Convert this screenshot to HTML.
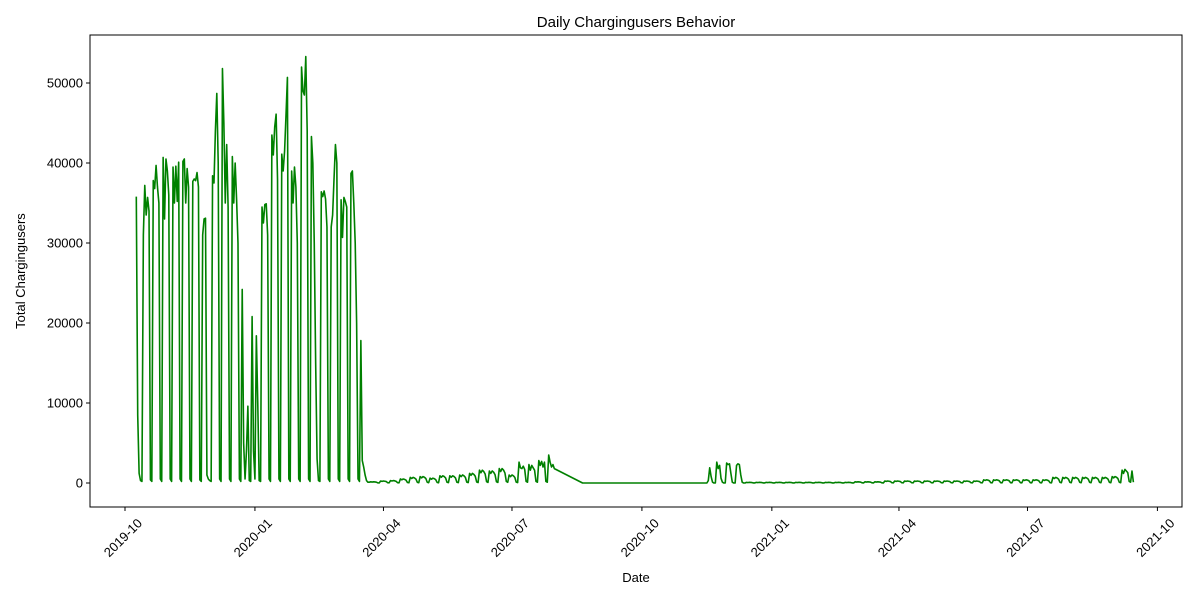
<!DOCTYPE html>
<html><head><meta charset="utf-8"><style>
body{margin:0;background:#fff}
svg text{font-family:"Liberation Sans","DejaVu Sans",sans-serif;fill:#000}
</style></head><body>
<svg width="1200" height="600" viewBox="0 0 1200 600">
<rect width="1200" height="600" fill="#fff"/>
<text x="636" y="27" font-size="15" text-anchor="middle">Daily Chargingusers Behavior</text>
<g id="yticks"></g><g id="xticks"></g>
<path id="line" fill="none" stroke="#008000" stroke-width="1.6" stroke-linejoin="round"/>
<rect x="90" y="35" width="1092" height="472" fill="none" stroke="#000" stroke-width="1"/>
<text x="636" y="582" font-size="13" text-anchor="middle">Date</text>
<text x="25" y="271" font-size="13" text-anchor="middle" transform="rotate(-90 25 271)">Total Chargingusers</text>
</svg>
<script>
const startDate = "2019-10-07";
const yTicks = [0,10000,20000,30000,40000,50000];
const xTickLabels = ["2019-10","2020-01","2020-04","2020-07","2020-10","2021-01","2021-04","2021-07","2021-10"];
const weeks = [
[null,null,35800,8500,1200,300,200],
[31000,37200,33500,35700,34000,400,200],
[37800,36800,39700,37000,35000,500,200],
[40700,33000,40500,39000,36000,500,200],
[39500,35000,39600,35200,40100,500,200],
[40200,40500,35000,39300,37000,500,200],
[37700,38000,37800,38800,37000,400,200],
[31000,33000,33100,1000,500,300,200],
[38400,37500,44000,48700,40000,500,200],
[51800,45000,35000,42300,34500,500,200],
[40800,35000,40000,35500,30000,500,200],
[24200,5000,500,4000,9600,300,200],
[20800,4000,500,18400,10000,300,200],
[34500,32500,34800,34900,31000,500,200],
[43500,41000,44500,46100,38000,500,200],
[41100,39000,41500,46000,50700,500,200],
[39000,35000,39500,37000,30000,500,200],
[52000,49000,48500,53300,44000,500,200],
[43300,40000,30000,15000,3000,300,200],
[36400,35800,36500,35500,32000,500,200],
[32000,33500,38000,42300,40000,500,200],
[35400,30700,35700,35200,34500,500,200],
[38700,39000,35000,30000,20000,500,200],
[17800,2800,2000,1000,300,100,100],
[150,120,150,130,100,20,10],
[250,200,250,220,180,30,20],
[300,250,300,270,200,40,20],
[500,400,500,450,350,60,30],
[700,560,700,630,490,80,40],
[800,640,800,720,560,90,40],
[600,480,600,540,420,70,30],
[900,720,900,810,630,100,50],
[900,720,900,810,630,100,50],
[1000,800,1000,900,700,110,50],
[1200,960,1200,1080,840,130,60],
[1600,1280,1600,1440,1120,170,80],
[1500,1200,1500,1350,1050,160,80],
[1800,1440,1800,1620,1260,190,90],
[1000,800,1000,900,700,110,50],
[2600,1900,1800,2100,1700,200,100],
[2300,1600,2200,1900,1600,200,100],
[2800,2200,2700,2000,2600,200,100],
[3500,2600,2000,2300,1800,null,null],
[null,null,null,null,null,null,null],
[null,null,null,null,null,null,null],
[null,null,null,0,0,0,0],
[0,0,0,0,0,0,0],[0,0,0,0,0,0,0],[0,0,0,0,0,0,0],[0,0,0,0,0,0,0],
[0,0,0,0,0,0,0],[0,0,0,0,0,0,0],[0,0,0,0,0,0,0],[0,0,0,0,0,0,0],
[0,0,0,0,0,0,0],[0,0,0,0,0,0,0],[0,0,0,0,0,0,0],[0,0,0,0,0,0,0],
[0,300,1900,800,100,0,0],
[2600,1800,2200,600,100,0,0],
[2500,2300,2400,1200,100,0,0],
[2200,2400,2300,1000,100,0,0],
[80,60,80,70,50,10,10],[80,60,80,70,50,10,10],[80,60,80,70,50,10,10],
[80,60,80,70,50,10,10],[80,60,80,70,50,10,10],[80,60,80,70,50,10,10],
[80,60,80,70,50,10,10],[80,60,80,70,50,10,10],[80,60,80,70,50,10,10],
[80,60,80,70,50,10,10],[80,60,80,70,50,10,10],
[150,120,150,130,100,20,10],[150,120,150,130,100,20,10],[150,120,150,130,100,20,10],
[250,200,250,220,180,30,20],[250,200,250,220,180,30,20],[250,200,250,220,180,30,20],
[250,200,250,220,180,30,20],[250,200,250,220,180,30,20],[250,200,250,220,180,30,20],
[250,200,250,220,180,30,20],[250,200,250,220,180,30,20],[250,200,250,220,180,30,20],
[250,200,250,220,180,30,20],
[400,320,400,360,280,40,20],[400,320,400,360,280,40,20],[400,320,400,360,280,40,20],
[400,320,400,360,280,40,20],[400,320,400,360,280,40,20],[400,320,400,360,280,40,20],
[400,320,400,360,280,40,20],
[700,560,700,630,490,80,40],[700,560,700,630,490,80,40],[700,560,700,630,490,80,40],
[700,560,700,630,490,80,40],[700,560,700,630,490,80,40],[700,560,700,630,490,80,40],
[800,640,800,720,560,90,40],
[1600,1200,1700,1500,1300,200,100],
[1500,100]
];
const NS="http://www.w3.org/2000/svg";
const DAY=86400000;
const origin=Date.UTC(2019,9,1);
function xScale(ms){return 125+(ms-origin)/DAY*(1031/730);}
function yScale(v){return 483-v*0.008;}
const s0=new Date(startDate+"T00:00:00Z").getTime();
let d="";
weeks.forEach((row,w)=>{row.forEach((v,k)=>{
  if(v===null) return;
  const x=xScale(s0+(w*7+k)*DAY), y=yScale(v);
  d+=(d?"L":"M")+x.toFixed(2)+" "+y.toFixed(2);
});});
document.getElementById("line").setAttribute("d",d);
const yg=document.getElementById("yticks");
yTicks.forEach(t=>{
  const y=yScale(t);
  const l=document.createElementNS(NS,"line");
  l.setAttribute("x1",86);l.setAttribute("x2",90);l.setAttribute("y1",y);l.setAttribute("y2",y);l.setAttribute("stroke","#000");
  
  
  yg.appendChild(l);
  const tx=document.createElementNS(NS,"text");
  tx.setAttribute("x",83);tx.setAttribute("y",y+4.5);tx.setAttribute("font-size","13");tx.setAttribute("text-anchor","end");
  tx.textContent=t;
  
  
  yg.appendChild(tx);
});
const xg=document.getElementById("xticks");
xTickLabels.forEach(lab=>{
  const [yy,mm]=lab.split("-").map(Number);
  const x=xScale(Date.UTC(yy,mm-1,1));
  const l=document.createElementNS(NS,"line");
  l.setAttribute("x1",x);l.setAttribute("x2",x);l.setAttribute("y1",507);l.setAttribute("y2",511);l.setAttribute("stroke","#000");
  
  
  xg.appendChild(l);
  const ax=x+18, ay=524;
  const tx=document.createElementNS(NS,"text");
  tx.setAttribute("x",ax);tx.setAttribute("y",ay);tx.setAttribute("font-size","13");tx.setAttribute("text-anchor","end");
  tx.setAttribute("transform","rotate(-45 "+ax+" "+ay+")");
  tx.textContent=lab;
  
  
  xg.appendChild(tx);
});
</script>
</body></html>
